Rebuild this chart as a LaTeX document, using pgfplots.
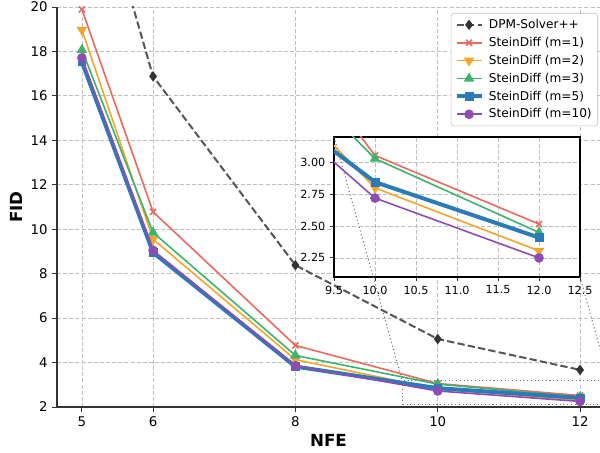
\documentclass[border=0pt]{standalone}
\usepackage{fontspec}
\setmainfont{DejaVu Sans}
\usepackage{pgfplots}
\pgfplotsset{compat=1.18}
\definecolor{cD}{HTML}{555555}
\definecolor{cDm}{HTML}{333333}
\definecolor{cA}{HTML}{EA6A5E}
\definecolor{cB}{HTML}{F5A62A}
\definecolor{cC}{HTML}{3DB370}
\definecolor{cE}{HTML}{2A7BB8}
\definecolor{cF}{HTML}{8E4DB3}
\pgfplotsset{
  series/.style={line width=1.2pt},
  mygrid/.style={grid=major, grid style={dash pattern=on 3pt off 1.6pt, black!25, line width=0.6pt}},
  dpm/.style={color=cD, dash pattern=on 5.5pt off 2.4pt, line width=1.5pt},
  dpmmark/.style={mark=diamond*, mark size=2.7pt, mark options={solid, fill=cDm, draw=cDm}},
}
\begin{document}
\begin{tikzpicture}
\begin{axis}[
  name=main,
  at={(0,0)}, anchor=south west,
  width=407.25pt, height=300pt, scale only axis,
  xmin=4.65, xmax=12.28, ymin=2, ymax=20,
  axis x line*=bottom, axis y line*=left,
  x axis line style={-, black!80, line width=0.8pt},
  y axis line style={-, black!80, line width=0.8pt},
  xtick={5,6,8,10,12}, ytick={2,4,...,20},
  mygrid,
  tick align=outside, major tick length=3.5pt,
  tick style={black!80, line width=0.7pt},
  ticklabel style={font=\fontsize{10}{12}\selectfont},
  /pgf/number format/assume math mode=true,
  xlabel={NFE}, ylabel={FID},
  label style={font=\fontsize{12.5}{14}\selectfont\bfseries},
  xlabel style={at={(axis description cs:0.5,-0.0825)}, anchor=center},
  ylabel style={at={(axis description cs:-0.0755,0.5)}, anchor=center},
  legend style={at={(0.9963,0.985)}, anchor=north east,
    font=\fontsize{9.1}{10.5}\selectfont, draw=black!25, rounded corners=2pt,
    fill=white, row sep=1pt, inner sep=2.5pt,
    /tikz/every odd column/.append style={column sep=2pt}},
  legend image code/.code={%
    \draw[mark repeat=2,mark phase=2,#1] plot coordinates {(0cm,0cm) (0.33cm,0cm) (0.66cm,0cm)};},
  legend cell align=left,
  clip mode=individual,
]
\addlegendimage{dpm, dpmmark}
\addlegendentry{DPM-Solver++}
\addplot[dpm, forget plot] coordinates {(5,28.0) (6,16.88) (8,8.38) (10,5.06) (12,3.67)};
\addplot[dpm, only marks, dpmmark, forget plot] coordinates {(6,16.88) (8,8.38) (10,5.06) (12,3.67)};
\addplot[series, color=cA, mark=x, mark size=3.2pt, mark options={solid}]
  coordinates {(5,19.89) (6,10.78) (8,4.77) (10,3.055) (12,2.516)};
\addlegendentry{SteinDiff (m=1)}
\addplot[series, color=cB, mark=triangle*, mark size=3.4pt, mark options={solid, rotate=180}]
  coordinates {(5,18.97) (6,9.55) (8,4.13) (10,2.80) (12,2.305)};
\addlegendentry{SteinDiff (m=2)}
\addplot[series, color=cC, mark=triangle*, mark size=3.4pt, mark options={solid}]
  coordinates {(5,18.07) (6,9.85) (8,4.32) (10,3.03) (12,2.45)};
\addlegendentry{SteinDiff (m=3)}
\addplot[color=cE, line width=3pt, mark=square*, mark size=2.9pt, mark options={solid, line width=0.5pt}]
  coordinates {(5,17.53) (6,8.95) (8,3.82) (10,2.846) (12,2.41)};
\addlegendentry{SteinDiff (m=5)}
\addplot[series, color=cF, mark=*, mark size=3pt, mark options={solid}]
  coordinates {(5,17.71) (6,9.05) (8,3.85) (10,2.72) (12,2.25)};
\addlegendentry{SteinDiff (m=10)}
\draw[dotted, black!55, line width=0.8pt] (axis cs:9.5,2.1) rectangle (axis cs:12.5,3.2);
\coordinate (rUL) at (axis cs:9.5,3.2);
\coordinate (rLR) at (axis cs:12.5,2.1);
\end{axis}
\begin{axis}[
  name=ins,
  at={(207.75pt,97.5pt)}, anchor=south west,
  width=184.5pt, height=105pt, scale only axis,
  xmin=9.5, xmax=12.5, ymin=2.1, ymax=3.2,
  xtick={9.5,10,10.5,11,11.5,12,12.5},
  ytick={2.25,2.5,2.75,3},
  xtick pos=bottom, ytick pos=left,
  xticklabel style={/pgf/number format/.cd, fixed, fixed zerofill, precision=1},
  yticklabel style={/pgf/number format/.cd, fixed, fixed zerofill, precision=2},
  /pgf/number format/assume math mode=true,
  axis background/.style={fill=white},
  axis line style={black, line width=0.9pt},
  mygrid,
  tick align=outside, major tick length=3pt,
  tick style={black!80, line width=0.7pt},
  ticklabel style={font=\fontsize{8.4}{10}\selectfont},
]
\addplot[dpm, dpmmark] coordinates {(5,28.0) (6,16.88) (8,8.38) (10,5.06) (12,3.67)};
\addplot[series, color=cA, mark=x, mark size=3.2pt, mark options={solid}]
  coordinates {(5,19.89) (6,10.78) (8,4.77) (10,3.055) (12,2.516)};
\addplot[series, color=cB, mark=triangle*, mark size=3.4pt, mark options={solid, rotate=180}]
  coordinates {(5,18.97) (6,9.55) (8,4.13) (10,2.80) (12,2.305)};
\addplot[series, color=cC, mark=triangle*, mark size=3.4pt, mark options={solid}]
  coordinates {(5,18.07) (6,9.85) (8,4.32) (10,3.03) (12,2.45)};
\addplot[color=cE, line width=3pt, mark=square*, mark size=2.9pt, mark options={solid, line width=0.5pt}]
  coordinates {(5,17.53) (6,8.95) (8,3.82) (10,2.846) (12,2.41)};
\addplot[series, color=cF, mark=*, mark size=3pt, mark options={solid}]
  coordinates {(5,17.71) (6,9.05) (8,3.85) (10,2.72) (12,2.25)};
\end{axis}
\draw[dotted, black!55, line width=0.8pt] (ins.north west) -- (rUL);
\draw[dotted, black!55, line width=0.8pt] (ins.south east) -- (rLR);
\pgfresetboundingbox
\path[use as bounding box] (-42.75pt,-34.5pt) rectangle (407.25pt,305.25pt);
\end{tikzpicture}
\end{document}
